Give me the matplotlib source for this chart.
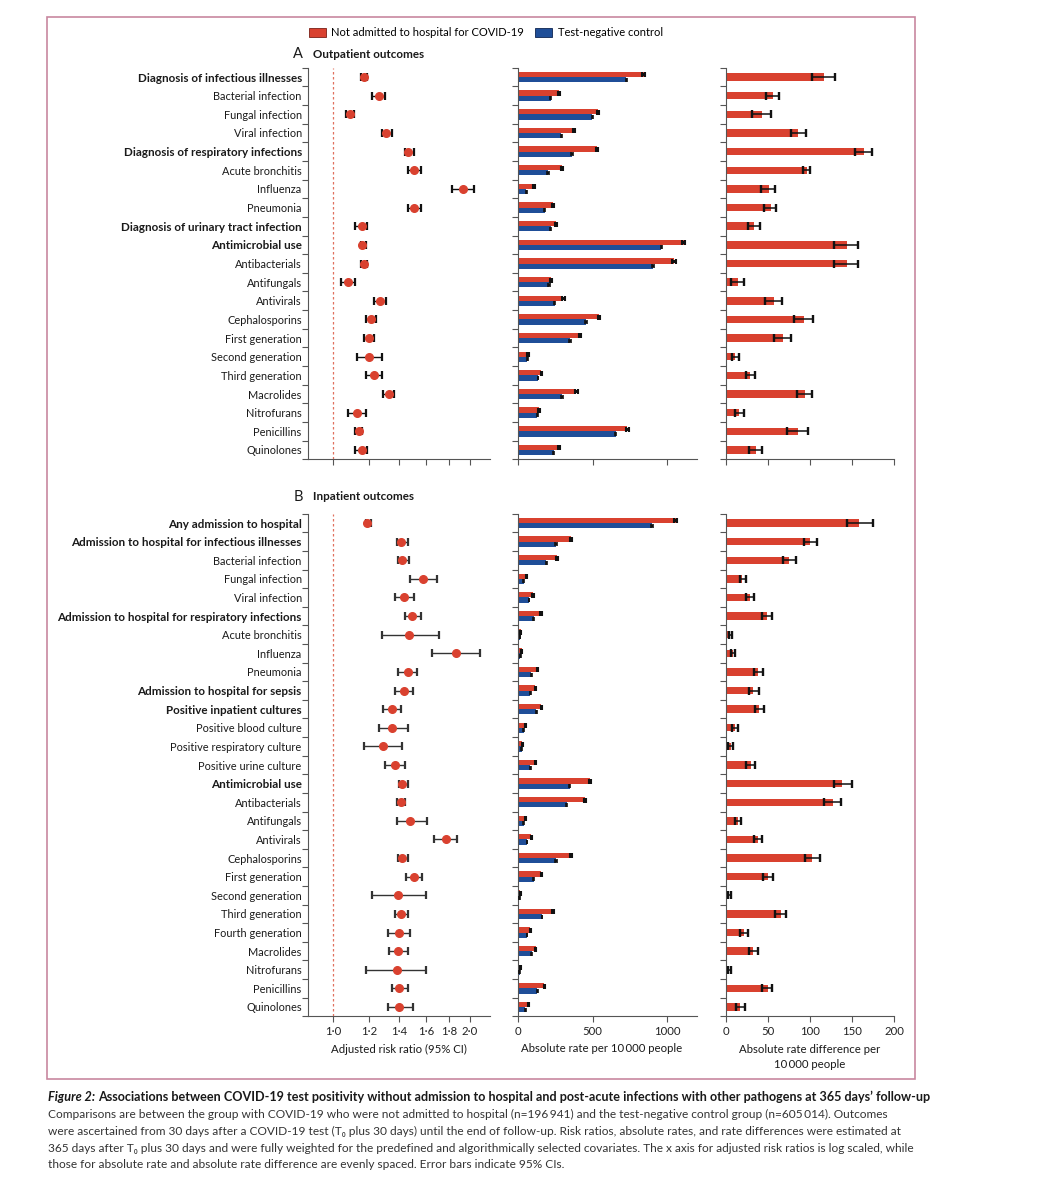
import matplotlib
matplotlib.use('Agg')
import matplotlib.pyplot as plt
import numpy as np
from matplotlib.patches import Patch, Rectangle
from matplotlib.ticker import NullLocator, FixedLocator

plt.rcParams['font.family'] = ['Lato', 'DejaVu Sans']

RED = '#d9412f'
BLUE = '#1f4e98'
GRAY = '#555555'

# ---------------- Panel A: outpatient outcomes ----------------
a_labels = ["Diagnosis of infectious illnesses", "Bacterial infection", "Fungal infection",
            "Viral infection", "Diagnosis of respiratory infections", "Acute bronchitis",
            "Influenza", "Pneumonia", "Diagnosis of urinary tract infection",
            "Antimicrobial use", "Antibacterials", "Antifungals", "Antivirals",
            "Cephalosporins", "First generation", "Second generation", "Third generation",
            "Macrolides", "Nitrofurans", "Penicillins", "Quinolones"]
a_bold = ["Diagnosis of infectious illnesses", "Diagnosis of respiratory infections",
          "Diagnosis of urinary tract infection", "Antimicrobial use"]
a_rr = [1.17, 1.26, 1.09, 1.31, 1.46, 1.51, 1.93, 1.51, 1.16, 1.16, 1.17, 1.08, 1.27,
        1.21, 1.20, 1.20, 1.23, 1.33, 1.13, 1.14, 1.16]
a_rr_lo = [1.15, 1.22, 1.07, 1.28, 1.44, 1.46, 1.83, 1.46, 1.12, 1.15, 1.15, 1.04, 1.23,
           1.18, 1.17, 1.13, 1.18, 1.29, 1.08, 1.12, 1.12]
a_rr_hi = [1.19, 1.30, 1.11, 1.35, 1.51, 1.56, 2.04, 1.56, 1.19, 1.18, 1.19, 1.12, 1.31,
           1.24, 1.23, 1.28, 1.28, 1.36, 1.18, 1.16, 1.19]
a_rate_pos = [843, 273, 537, 376, 530, 293, 105, 235, 253, 1110, 1045, 219, 304, 544, 416,
              67, 157, 391, 141, 731, 273]
a_rate_neg = [727, 219, 499, 291, 362, 201, 56, 179, 219, 962, 906, 208, 246, 456, 349,
              63, 134, 295, 130, 655, 239]
a_rate_pos_err = [10, 8, 9, 8, 9, 8, 6, 8, 8, 12, 12, 7, 8, 9, 8, 5, 6, 8, 6, 10, 8]
a_rate_neg_err = [5, 4, 4, 4, 5, 4, 3, 4, 4, 6, 6, 4, 4, 5, 4, 3, 3, 4, 3, 5, 4]
a_diff = [116.7, 55.6, 42.9, 85.7, 164.3, 96.0, 50.8, 53.6, 33.3, 143.6, 143.6, 13.9, 56.8,
          92.9, 68.3, 11.1, 29.0, 93.7, 15.1, 85.7, 36.1]
a_diff_lo = [102.8, 47.6, 31.3, 77.0, 154.0, 91.3, 41.7, 45.2, 26.6, 128.2, 128.2, 5.6, 46.0,
             81.0, 57.5, 7.5, 23.4, 84.1, 10.3, 72.2, 27.4]
a_diff_hi = [129.8, 62.7, 53.6, 94.8, 173.4, 100.0, 58.0, 59.5, 40.9, 157.1, 157.1, 21.0, 66.3,
             103.6, 77.0, 15.9, 34.9, 102.0, 21.4, 98.0, 42.9]

# ---------------- Panel B: inpatient outcomes ----------------
b_labels = ["Any admission to hospital", "Admission to hospital for infectious illnesses",
            "Bacterial infection", "Fungal infection", "Viral infection",
            "Admission to hospital for respiratory infections", "Acute bronchitis",
            "Influenza", "Pneumonia", "Admission to hospital for sepsis",
            "Positive inpatient cultures", "Positive blood culture",
            "Positive respiratory culture", "Positive urine culture", "Antimicrobial use",
            "Antibacterials", "Antifungals", "Antivirals", "Cephalosporins",
            "First generation", "Second generation", "Third generation",
            "Fourth generation", "Macrolides", "Nitrofurans", "Penicillins", "Quinolones"]
b_bold = ["Any admission to hospital", "Admission to hospital for infectious illnesses",
          "Admission to hospital for respiratory infections",
          "Admission to hospital for sepsis", "Positive inpatient cultures",
          "Antimicrobial use"]
b_rr = [1.19, 1.41, 1.42, 1.58, 1.43, 1.49, 1.47, 1.86, 1.46, 1.43, 1.35, 1.35, 1.29, 1.37,
        1.42, 1.41, 1.48, 1.77, 1.42, 1.51, 1.39, 1.41, 1.40, 1.39, 1.38, 1.40, 1.40]
b_rr_lo = [1.18, 1.38, 1.39, 1.48, 1.37, 1.44, 1.28, 1.65, 1.39, 1.37, 1.29, 1.26, 1.17, 1.30,
           1.40, 1.38, 1.38, 1.67, 1.39, 1.45, 1.22, 1.37, 1.32, 1.33, 1.18, 1.35, 1.32]
b_rr_hi = [1.21, 1.46, 1.47, 1.69, 1.51, 1.56, 1.71, 2.11, 1.53, 1.50, 1.41, 1.46, 1.42, 1.44,
           1.46, 1.44, 1.61, 1.87, 1.46, 1.57, 1.60, 1.46, 1.48, 1.46, 1.60, 1.46, 1.50]
b_rate_pos = [1056, 353, 264, 56, 101, 154, 18, 25, 130, 116, 157, 51, 29, 116, 481, 450,
              51, 89, 356, 157, 14, 233, 83, 119, 16, 177, 69]
b_rate_neg = [899, 255, 190, 38, 74, 105, 13, 16, 89, 83, 123, 38, 25, 83, 347, 327,
              38, 60, 255, 105, 10, 161, 60, 92, 12, 130, 49]
b_rate_pos_err = [12, 7, 6, 4, 5, 5, 3, 3, 5, 5, 5, 4, 3, 5, 8, 8, 4, 4, 7, 5, 3, 6, 4, 5, 3, 5, 4]
b_rate_neg_err = [6, 4, 3, 2, 2, 3, 2, 2, 3, 3, 3, 2, 2, 3, 4, 4, 2, 2, 4, 3, 2, 3, 2, 3, 2, 3, 2]
b_diff = [158.8, 100.0, 75.0, 19.5, 28.6, 48.4, 4.8, 8.7, 38.5, 32.6, 39.7, 10.7, 6.0, 29.4,
          138.6, 127.0, 14.7, 38.5, 102.8, 49.6, 4.0, 65.1, 21.8, 31.8, 4.0, 49.6, 16.7]
b_diff_lo = [143.7, 92.9, 68.3, 16.7, 23.8, 42.5, 3.2, 6.4, 33.7, 27.8, 34.5, 7.1, 2.8, 23.8,
             128.6, 116.7, 10.7, 33.7, 94.1, 44.5, 2.0, 58.0, 17.1, 27.8, 2.0, 42.9, 11.5]
b_diff_hi = [175.5, 108.8, 83.0, 23.8, 33.3, 54.8, 6.7, 11.1, 44.5, 38.9, 45.7, 14.7, 8.7, 34.1,
             150.0, 136.6, 18.3, 42.5, 112.0, 56.0, 5.6, 71.5, 26.6, 38.1, 5.6, 55.2, 22.2]

rr_ticks = [1.0, 1.2, 1.4, 1.6, 1.8, 2.0]
rr_ticklabels = ["1·0", "1·2", "1·4", "1·6", "1·8", "2·0"]
rate_ticks = [0, 500, 1000]
diff_ticks = [0, 50, 100, 150, 200]

W, H = 1046, 1200
fig = plt.figure(figsize=(W / 100, H / 100), dpi=100)


def fx(px):
    return px / W


def fy(py):
    return 1 - py / H


def style_axis(ax, n):
    for s in ['top', 'right']:
        ax.spines[s].set_visible(False)
    for s in ['left', 'bottom']:
        ax.spines[s].set_color(GRAY)
        ax.spines[s].set_linewidth(0.8)
    ax.set_ylim(n - 0.5, -0.5)
    ax.yaxis.set_major_locator(FixedLocator(np.arange(n + 1) - 0.5))
    ax.tick_params(axis='y', which='major', length=4, width=0.8, color=GRAY, labelleft=False)
    ax.tick_params(axis='x', which='major', length=4, width=0.8, color=GRAY,
                   labelsize=8.2, pad=3, labelcolor='#222222')


def forest(ax, rr, lo, hi, labels, bold, show_lab, ecol):
    n = len(rr)
    y = np.arange(n)
    rr = np.array(rr); lo = np.array(lo); hi = np.array(hi)
    ax.axvline(1.0, color='#e0705f', ls=(0, (2, 2)), lw=0.9, zorder=1)
    ax.errorbar(rr, y, xerr=[rr - lo, hi - rr], fmt='none', ecolor=ecol,
                elinewidth=1.0, capsize=3, capthick=1.6, zorder=2)
    ax.plot(rr, y, 'o', color=RED, ms=5.5, mec=RED, zorder=3)
    ax.set_xscale('log')
    ax.set_xlim(0.881, 2.214)
    ax.xaxis.set_major_locator(FixedLocator(rr_ticks))
    ax.xaxis.set_minor_locator(NullLocator())
    ax.set_xticklabels(rr_ticklabels)
    style_axis(ax, n)
    ax.set_yticks(y, minor=True)
    ax.set_yticklabels(labels, minor=True)
    ax.tick_params(axis='y', which='minor', length=0, pad=4.5, labelsize=7.9,
                   labelcolor='#1a1a1a')
    for t in ax.get_yticklabels(minor=True):
        if t.get_text() in bold:
            t.set_fontweight('bold')
            t.set_fontsize(8.4)
    if not show_lab:
        ax.tick_params(axis='x', labelbottom=False)


def rates(ax, pos, neg, pos_err, neg_err, show_lab):
    n = len(pos)
    y = np.arange(n)
    ax.barh(y - 0.14, pos, height=0.28, color=RED, zorder=2)
    ax.barh(y + 0.14, neg, height=0.28, color=BLUE, zorder=2)
    ax.errorbar(pos, y - 0.14, xerr=pos_err, fmt='none', ecolor='#111111',
                elinewidth=2.2, capsize=1.8, capthick=1.5, zorder=3)
    ax.errorbar(neg, y + 0.14, xerr=neg_err, fmt='none', ecolor='#111111',
                elinewidth=1.6, capsize=1.4, capthick=1.2, zorder=3)
    ax.set_xlim(0, 1200)
    ax.set_xticks(rate_ticks)
    style_axis(ax, n)
    if not show_lab:
        ax.tick_params(axis='x', labelbottom=False)


def diffs(ax, d, lo, hi, show_lab):
    n = len(d)
    y = np.arange(n)
    d = np.array(d); lo = np.array(lo); hi = np.array(hi)
    ax.barh(y, d, height=0.4, color=RED, zorder=2)
    ax.errorbar(d, y, xerr=[d - lo, hi - d], fmt='none', ecolor='#111111',
                elinewidth=1.1, capsize=3, capthick=1.7, zorder=3)
    ax.set_xlim(0, 200)
    ax.set_xticks(diff_ticks)
    style_axis(ax, n)
    if not show_lab:
        ax.tick_params(axis='x', labelbottom=False)


# axes geometry (pixels)
cols = [(308, 490), (518, 697), (726, 894)]
rowsA = (67.7, 459.3)
rowsB = (513.7, 1016.3)


def mk(col, rows):
    x0, x1 = col
    y0, y1 = rows
    return fig.add_axes([fx(x0), fy(y1), fx(x1 - x0), (y1 - y0) / H])


axA1 = mk(cols[0], rowsA); axA2 = mk(cols[1], rowsA); axA3 = mk(cols[2], rowsA)
axB1 = mk(cols[0], rowsB); axB2 = mk(cols[1], rowsB); axB3 = mk(cols[2], rowsB)

forest(axA1, a_rr, a_rr_lo, a_rr_hi, a_labels, a_bold, False, '#111111')
rates(axA2, a_rate_pos, a_rate_neg, a_rate_pos_err, a_rate_neg_err, False)
diffs(axA3, a_diff, a_diff_lo, a_diff_hi, False)
forest(axB1, b_rr, b_rr_lo, b_rr_hi, b_labels, b_bold, True, '#333333')
rates(axB2, b_rate_pos, b_rate_neg, b_rate_pos_err, b_rate_neg_err, True)
diffs(axB3, b_diff, b_diff_lo, b_diff_hi, True)

# axis titles
fig.text(fx(399), fy(1049), "Adjusted risk ratio (95% CI)", ha='center', va='center',
         fontsize=8.2, color='#1a1a1a')
fig.text(fx(602), fy(1049), "Absolute rate per 10\u2009000 people", ha='center', va='center',
         fontsize=8.2, color='#1a1a1a')
fig.text(fx(810), fy(1057), "Absolute rate difference per\n10\u2009000 people", ha='center',
         va='center', fontsize=8.2, color='#1a1a1a', linespacing=1.45)

# panel titles
fig.text(fx(303), fy(54), "A", ha='right', va='center', fontsize=10.5, color='#1a1a1a')
fig.text(fx(313), fy(54), "Outpatient outcomes", ha='left', va='center', fontsize=8.4,
         fontweight='bold', color='#1a1a1a')
fig.text(fx(303), fy(497), "B", ha='right', va='center', fontsize=10.5, color='#1a1a1a')
fig.text(fx(313), fy(497), "Inpatient outcomes", ha='left', va='center', fontsize=8.4,
         fontweight='bold', color='#1a1a1a')

# legend
handles = [Patch(facecolor=RED, edgecolor='#7a1f15', lw=0.6, label="Not admitted to hospital for COVID-19"),
           Patch(facecolor=BLUE, edgecolor='#0d2450', lw=0.6, label="Test-negative control")]
fig.legend(handles=handles, loc='center', bbox_to_anchor=(fx(486), fy(33)), ncol=2,
           frameon=False, fontsize=8, handlelength=1.5, handleheight=0.9,
           handletextpad=0.5, columnspacing=1.0)

# border
fig.add_artist(Rectangle((fx(47), fy(1079)), fx(915 - 47), (1079 - 17) / H,
                         transform=fig.transFigure, fill=False, edgecolor='#c8879f', lw=1.2))

# caption
fig.canvas.draw()
r = fig.canvas.get_renderer()
cap_fs = 8.6
head_fs = 9.1
t1 = fig.text(fx(48), fy(1097), "Figure 2:", ha='left', va='center', fontsize=head_fs,
              fontweight='bold', fontstyle='italic', color='#1a1a1a')
bb = t1.get_window_extent(r)
fig.text(bb.x1 / W + fx(3), fy(1097),
         "Associations between COVID-19 test positivity without admission to hospital and post-acute infections with other pathogens at 365 days\u2019 follow-up",
         ha='left', va='center', fontsize=head_fs, fontweight='bold', color='#1a1a1a')
cap_lines = [
    "Comparisons are between the group with COVID-19 who were not admitted to hospital (n=196\u2009941) and the test-negative control group (n=605\u2009014). Outcomes",
    "were ascertained from 30 days after a COVID-19 test (T\u2080 plus 30 days) until the end of follow-up. Risk ratios, absolute rates, and rate differences were estimated at",
    "365 days after T\u2080 plus 30 days and were fully weighted for the predefined and algorithmically selected covariates. The x axis for adjusted risk ratios is log scaled, while",
    "those for absolute rate and absolute rate difference are evenly spaced. Error bars indicate 95% CIs.",
]
for i, line in enumerate(cap_lines):
    fig.text(fx(48), fy(1114 + 17 * i), line, ha='left', va='center', fontsize=cap_fs,
             color='#333333')

fig.savefig('out.png', dpi=100)
